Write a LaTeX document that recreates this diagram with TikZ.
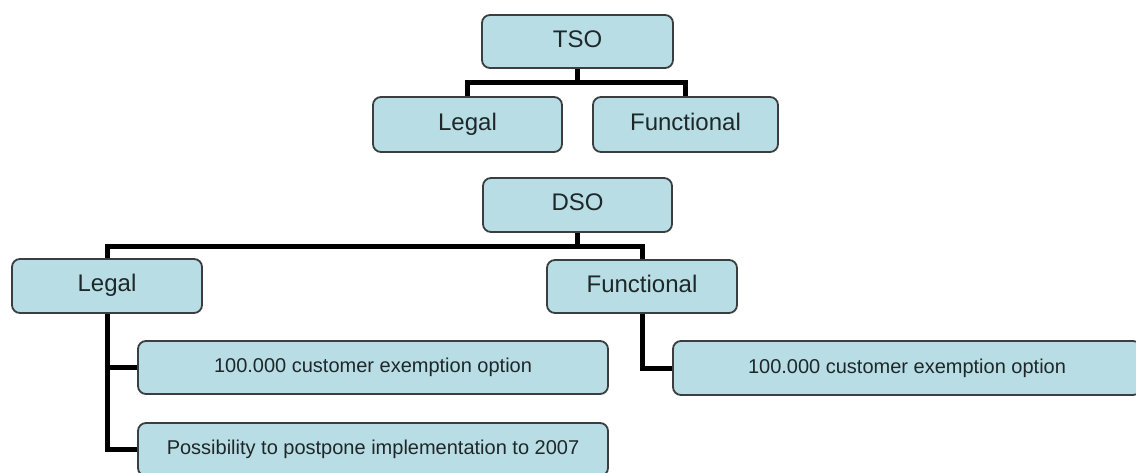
\documentclass[tikz,border=0pt]{standalone}
\usepackage{fontspec}
\setmainfont{Liberation Sans}
\definecolor{boxfill}{RGB}{184,221,228}
\definecolor{boxline}{RGB}{58,62,64}
\definecolor{txt}{RGB}{30,40,42}
\tikzset{
  orgbox/.style={draw=boxline, line width=1.8pt, fill=boxfill, rounded corners=8pt,
    inner sep=0pt, text=txt, font=\fontsize{24}{28}\selectfont,
    text height=17pt, text depth=5pt},
  smallbox/.style={orgbox, font=\fontsize{20}{24}\selectfont,
    text height=14.5pt, text depth=4pt},
  conn/.style={draw=black, line width=5pt, line join=miter}
}
\begin{document}
\begin{tikzpicture}[x=1pt,y=-1pt]
\useasboundingbox (0,0) rectangle (1136,473);
\clip (0,0) rectangle (1136,473);
\fill[white] (0,0) rectangle (1136,473);
% top tree
\node[orgbox, minimum width=191pt, minimum height=53pt] (tso) at (577.5,41.5) {TSO};
\node[orgbox, minimum width=189pt, minimum height=55pt] (lt) at (467.5,124.5) {Legal};
\node[orgbox, minimum width=185pt, minimum height=55pt] (ft) at (685.5,124.5) {Functional};
\coordinate (tj) at (577.5,83);
% bottom tree
\node[orgbox, minimum width=189pt, minimum height=54pt] (dso) at (577.5,205) {DSO};
\node[orgbox, minimum width=190pt, minimum height=54pt] (ld) at (107,286) {Legal};
\node[orgbox, minimum width=190pt, minimum height=53pt] (fd) at (642,286.5) {Functional};
\coordinate (dj) at (577.5,247);
\node[smallbox, minimum width=470pt, minimum height=53pt] (b1) at (373,367.5) {100.000 customer exemption option};
\node[smallbox, minimum width=470pt, minimum height=53pt] (b2) at (373,449.5) {Possibility to postpone implementation to 2007};
\node[smallbox, minimum width=468pt, minimum height=54pt] (b3) at (907,368) {100.000 customer exemption option};
% connectors
\draw[conn] (tso.south) -- (tj);
\draw[conn] (lt.north) |- (tj) -| (ft.north);
\draw[conn] (dso.south) -- (dj);
\draw[conn] (ld.north) |- (dj) -| (fd.north);
\draw[conn] (ld.south) |- (b1.west);
\draw[conn] (ld.south) |- (b2.west);
\draw[conn] (fd.south) |- (b3.west);
\end{tikzpicture}
\end{document}
